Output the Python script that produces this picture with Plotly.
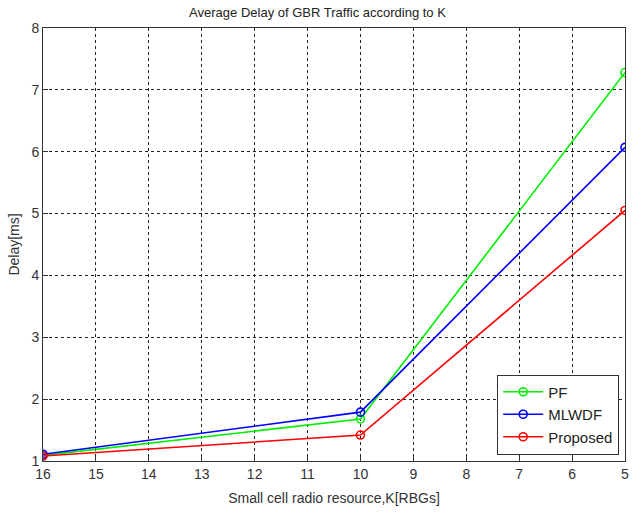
import plotly.graph_objects as go

k_values = [16, 10, 5]
pf = [1.09, 1.68, 7.28]
mlwdf = [1.11, 1.79, 6.07]
proposed = [1.08, 1.42, 5.05]
x_ticks = list(range(5, 17))
y_ticks = list(range(1, 9))

fig = go.Figure()
series = [("PF", pf, "#00ee00"), ("MLWDF", mlwdf, "#0000ff"), ("Proposed", proposed, "#ff0000")]
for name, vals, col in series:
    fig.add_trace(go.Scatter(
        x=k_values, y=vals, name=name, mode="lines+markers",
        line=dict(color=col, width=1.6),
        marker=dict(symbol="circle-open", size=8, color=col, line=dict(width=1.6, color=col)),
    ))

font = "Liberation Sans, Arial, sans-serif"
fig.update_layout(
    width=635, height=515,
    margin=dict(l=43, r=6, t=28, b=54),
    paper_bgcolor="white", plot_bgcolor="white",
    font=dict(family=font, size=14, color="#333"),
    title=dict(text="Average Delay of GBR Traffic according to K", x=0.5, xanchor="center",
               y=0.985, yanchor="top", font=dict(size=13, color="#222")),
    showlegend=True,
    legend=dict(x=0.99, y=0.015, xanchor="right", yanchor="bottom",
                bordercolor="#333", borderwidth=1, bgcolor="white",
                font=dict(size=15, color="#222"), tracegroupgap=0, itemwidth=40),
)
fig.update_xaxes(
    range=[16, 5], tickvals=x_ticks, ticks="inside", ticklen=5, tickcolor="#333",
    showline=True, linecolor="#333", linewidth=1, mirror=True,
    showgrid=True, gridcolor="#222", griddash="3px,3px", gridwidth=1, zeroline=False,
    title=dict(text="Small cell radio resource,K[RBGs]", standoff=12, font=dict(size=14)),
)
fig.update_yaxes(
    range=[1, 8], tickvals=y_ticks, ticks="inside", ticklen=5, tickcolor="#333",
    showline=True, linecolor="#333", linewidth=1, mirror=True,
    showgrid=True, gridcolor="#222", griddash="3px,3px", gridwidth=1, zeroline=False,
    title=dict(text="Delay[ms]", standoff=8, font=dict(size=14)),
)
fig.write_html("out.html")
